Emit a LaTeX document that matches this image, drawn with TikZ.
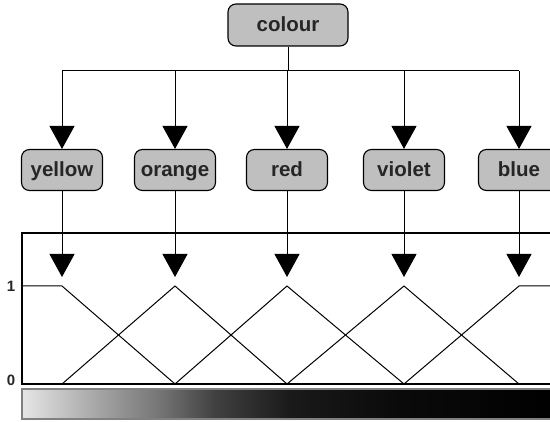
\documentclass[tikz,border=0pt]{standalone}
\usepackage{fontspec}
\setsansfont{Liberation Sans}
\usetikzlibrary{arrows.meta,positioning}
\pgfdeclarehorizontalshading{greybar}{100bp}{color(0bp)=(black!10); color(25bp)=(black!10);
  color(32bp)=(black!35); color(38bp)=(black!55); color(43bp)=(black!75);
  color(50bp)=(black!90); color(60bp)=(black!96); color(75bp)=(black); color(100bp)=(black)}

\begin{document}
\begin{tikzpicture}[x=1pt, y=-1pt,
		cat/.style={draw, line width=1.1pt, rounded corners=8pt, fill=black!25,
				minimum width=81pt, minimum height=41pt, inner sep=2pt,
				text height=16.5pt, text depth=2.5pt,
				font=\sffamily\bfseries\fontsize{20.5}{24}\selectfont, text=black!85},
		root/.style={cat, minimum width=120pt, minimum height=42pt},
		wire/.style={-{Triangle[width=25pt, length=23pt]}, line width=1pt},
		line/.style={line width=1pt},
		tick/.style={font=\sffamily\bfseries\fontsize{15}{17}\selectfont, text=black!85}]

		\path[use as bounding box] (0,0) rectangle (550,422);
		\clip (0,0) rectangle (550,422);

		% ── Root and categories ──
		\node[root] (colour) at (288,25) {colour};
		\node[cat] (yellow) at (62,170) {yellow};
		\node[cat] (orange) at (175,170) {orange};
		\node[cat] (red) at (287,170) {red};
		\node[cat] (violet) at (404,170) {violet};
		\node[cat] (blue) at (519,170) {blue};

		% ── Bus from root to categories ──
		\coordinate (bus) at (288,71);
		\coordinate (tips) at (0,277);
		\draw[line] (colour.south) -- (bus);
		\draw[line] (yellow |- bus) -- (blue |- bus);
		\foreach \c in {yellow,orange,red,violet,blue} {
			\draw[wire] (\c |- bus) -- (\c.north);
			\draw[wire] (\c.south) -- (\c |- tips);
		}

		% ── Membership plot ──
		\draw[line width=1.2pt] (560,233) -- (22,233) -- (22,384) -- (560,384);
		\node[tick] (one) at (11,286) {1};
		\node[tick] (zero) at (11,380) {0};

		\draw[line] (22,286) -- (62,286) -- (175,384);
		\draw[line] (62,384) -- (175,286) -- (287,384);
		\draw[line] (175,384) -- (287,286) -- (404,384);
		\draw[line] (287,384) -- (404,286) -- (519,384);
		\draw[line] (404,384) -- (519,286) -- (560,286);

		% ── Grey scale bar ──
		\shade[shading=greybar, draw=black!50, line width=1.2pt] (22,389) rectangle (560,419);

	\end{tikzpicture}
\end{document}
